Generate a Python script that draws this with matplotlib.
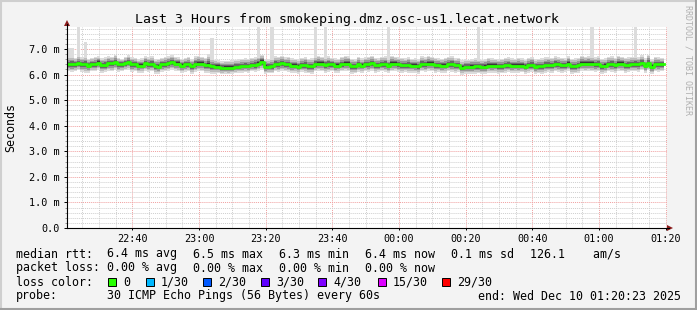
import matplotlib
matplotlib.use("Agg")
import matplotlib.pyplot as plt
import matplotlib.dates as mdates
from matplotlib.lines import Line2D
from matplotlib.patches import Polygon, Rectangle
from matplotlib.ticker import MultipleLocator, FuncFormatter
from datetime import datetime, timedelta
import numpy as np

# one median sample per minute, in ms
median = [
    6.40, 6.40, 6.40, 6.44, 6.40, 6.40, 6.35, 6.40, 6.40, 6.47,
    6.37, 6.37, 6.44, 6.44, 6.48, 6.40, 6.40, 6.45, 6.50, 6.40,
    6.40, 6.35, 6.35, 6.44, 6.40, 6.40, 6.33, 6.31, 6.40, 6.40,
    6.44, 6.48, 6.43, 6.43, 6.35, 6.40, 6.40, 6.32, 6.40, 6.43,
    6.43, 6.37, 6.37, 6.32, 6.31, 6.31, 6.27, 6.27, 6.27, 6.27,
    6.30, 6.30, 6.33, 6.33, 6.33, 6.37, 6.37, 6.43, 6.50, 6.30,
    6.30, 6.32, 6.40, 6.40, 6.44, 6.40, 6.40, 6.35, 6.35, 6.31,
    6.37, 6.37, 6.32, 6.32, 6.40, 6.43, 6.43, 6.37, 6.40, 6.40,
    6.35, 6.35, 6.40, 6.43, 6.43, 6.32, 6.32, 6.40, 6.35, 6.40,
    6.40, 6.44, 6.37, 6.37, 6.40, 6.40, 6.35, 6.43, 6.43, 6.40,
    6.37, 6.37, 6.37, 6.35, 6.35, 6.32, 6.40, 6.40, 6.43, 6.43,
    6.37, 6.37, 6.35, 6.35, 6.40, 6.40, 6.37, 6.37, 6.27, 6.30,
    6.30, 6.30, 6.32, 6.32, 6.30, 6.30, 6.35, 6.35, 6.35, 6.32,
    6.32, 6.37, 6.37, 6.35, 6.35, 6.35, 6.35, 6.31, 6.37, 6.37,
    6.30, 6.32, 6.32, 6.37, 6.37, 6.37, 6.40, 6.40, 6.37, 6.37,
    6.43, 6.32, 6.32, 6.37, 6.43, 6.43, 6.43, 6.43, 6.40, 6.40,
    6.32, 6.35, 6.40, 6.40, 6.37, 6.43, 6.43, 6.37, 6.37, 6.40,
    6.40, 6.40, 6.45, 6.35, 6.45, 6.30, 6.40, 6.40, 6.40,
]

# top and bottom of the smoke per minute
smoke_hi = [
    6.70, 6.72, 6.66, 6.75, 6.68, 6.74, 6.62, 6.66, 6.70, 6.72,
    6.64, 6.68, 6.72, 6.70, 6.78, 6.66, 6.62, 6.70, 6.75, 6.68,
    6.66, 6.60, 6.64, 6.72, 6.68, 6.74, 6.60, 6.62, 6.66, 6.70,
    6.72, 6.76, 6.70, 6.68, 6.62, 6.66, 6.70, 6.60, 6.72, 6.74,
    6.70, 6.66, 6.80, 6.62, 6.58, 6.56, 6.52, 6.55, 6.54, 6.56,
    6.58, 6.60, 6.62, 6.64, 6.62, 6.66, 6.70, 6.72, 6.78, 6.62,
    6.60, 6.64, 6.72, 6.70, 6.74, 6.68, 6.70, 6.64, 6.62, 6.60,
    6.66, 6.70, 6.62, 6.64, 6.72, 6.74, 6.70, 6.68, 6.72, 6.66,
    6.64, 6.62, 6.70, 6.74, 6.72, 6.62, 6.60, 6.70, 6.64, 6.68,
    6.70, 6.74, 6.66, 6.64, 6.70, 6.72, 6.62, 6.74, 6.70, 6.68,
    6.66, 6.64, 6.70, 6.62, 6.64, 6.60, 6.72, 6.68, 6.74, 6.70,
    6.66, 6.64, 6.62, 6.66, 6.70, 6.72, 6.64, 6.66, 6.56, 6.60,
    6.58, 6.62, 6.64, 6.60, 6.58, 6.62, 6.66, 6.64, 6.62, 6.60,
    6.62, 6.66, 6.68, 6.64, 6.62, 6.66, 6.64, 6.58, 6.66, 6.70,
    6.60, 6.62, 6.64, 6.68, 6.70, 6.66, 6.72, 6.68, 6.66, 6.64,
    6.72, 6.62, 6.64, 6.66, 6.74, 6.70, 6.72, 6.70, 6.68, 6.72,
    6.62, 6.64, 6.70, 6.72, 6.66, 6.74, 6.70, 6.66, 6.68, 6.70,
    6.72, 6.68, 6.76, 6.64, 6.78, 6.62, 6.70, 6.68, 6.66,
]
smoke_lo = [
    6.12, 6.10, 6.14, 6.16, 6.10, 6.08, 6.06, 6.12, 6.14, 6.18,
    6.08, 6.10, 6.14, 6.12, 6.18, 6.10, 6.12, 6.16, 6.18, 6.10,
    6.12, 6.06, 6.08, 6.14, 6.10, 6.12, 6.04, 6.02, 6.10, 6.12,
    6.14, 6.18, 6.14, 6.12, 6.06, 6.10, 6.12, 6.04, 6.10, 6.14,
    6.12, 6.08, 6.06, 6.04, 6.04, 6.06, 6.02, 6.04, 6.02, 6.04,
    6.06, 6.08, 6.08, 6.10, 6.08, 6.12, 6.10, 6.14, 6.18, 6.04,
    6.06, 6.06, 6.12, 6.10, 6.14, 6.12, 6.10, 6.06, 6.08, 6.04,
    6.10, 6.08, 6.06, 6.04, 6.12, 6.14, 6.12, 6.08, 6.10, 6.12,
    6.06, 6.08, 6.12, 6.14, 6.12, 6.04, 6.06, 6.10, 6.08, 6.12,
    6.10, 6.14, 6.08, 6.10, 6.12, 6.10, 6.06, 6.12, 6.14, 6.10,
    6.08, 6.10, 6.06, 6.08, 6.06, 6.04, 6.12, 6.10, 6.14, 6.12,
    6.08, 6.10, 6.06, 6.08, 6.12, 6.10, 6.08, 6.10, 6.00, 6.02,
    6.04, 6.02, 6.04, 6.06, 6.04, 6.02, 6.08, 6.06, 6.08, 6.04,
    6.06, 6.08, 6.10, 6.06, 6.08, 6.06, 6.10, 6.04, 6.08, 6.10,
    6.02, 6.06, 6.04, 6.08, 6.10, 6.08, 6.12, 6.10, 6.08, 6.10,
    6.14, 6.04, 6.06, 6.08, 6.14, 6.12, 6.14, 6.12, 6.10, 6.12,
    6.04, 6.06, 6.12, 6.10, 6.08, 6.14, 6.12, 6.08, 6.10, 6.12,
    6.12, 6.10, 6.16, 6.06, 6.16, 6.02, 6.12, 6.10, 6.12,
]

# single slow pings sticking out of the smoke
spike_idx = [0, 1, 3, 5, 43, 57, 61, 74, 77, 96, 123, 157, 170]
spike_top = [7.04, 7.04, 7.90, 7.29, 7.42, 7.90, 7.90, 7.90, 7.90, 7.90, 7.90, 7.90, 7.90]

loss_labels = ["0", "1/30", "2/30", "3/30", "4/30", "15/30", "29/30"]
loss_colors = ["#26ff00", "#00b8ff", "#0059ff", "#5e00ff", "#7e00ff", "#dd00ff", "#ff0000"]

rtt_stats = ["6.4 ms avg", "6.5 ms max", "6.3 ms min", "6.4 ms now", "0.1 ms sd", "126.1    am/s"]
loss_stats = ["0.00 % avg", "0.00 % max", "0.00 % min", "0.00 % now"]

start = datetime(2025, 12, 9, 22, 20, 23)
end = datetime(2025, 12, 10, 1, 20, 23)

W, H = 697, 310
MONO = "DejaVu Sans Mono"


def fx(x):
    return x / W


def fy(y):
    return 1 - y / H


fig = plt.figure(figsize=(W / 100, H / 100), dpi=100, facecolor="#f3f3f3")
ax = fig.add_axes([fx(67), fy(228), fx(667) - fx(67), fy(27) - fy(228)])
ax.set_facecolor("white")

edges = [start + timedelta(minutes=k) for k in range(len(median) + 1)]
med = np.append(median, median[-1])
hi = np.append(smoke_hi, smoke_hi[-1])
lo = np.append(smoke_lo, smoke_lo[-1])
top = hi.copy()
for i, t in zip(spike_idx, spike_top):
    top[i] = t
    if i == len(median) - 1:
        top[-1] = t

# smoke, light outside to dark near the median
ax.fill_between(edges, lo, top, step="post", color="#dcdcdc", lw=0, zorder=2)
shades = [(0.78, "#bdbdbd"), (0.55, "#969696"), (0.35, "#686868"), (0.18, "#383838")]
for frac, col in shades:
    ax.fill_between(edges, med - (med - lo) * frac, med + (hi - med) * frac,
                    step="post", color=col, lw=0, zorder=3)
ax.step(edges, med, where="post", color=loss_colors[0], lw=2.0, zorder=4)

ax.set_xlim(start, end)
ax.set_ylim(0, 7.86)
ax.yaxis.set_major_locator(MultipleLocator(1.0))
ax.yaxis.set_minor_locator(MultipleLocator(0.2))
ax.yaxis.set_major_formatter(FuncFormatter(lambda v, p: "0.0" if v == 0 else f"{v:.1f} m"))
ax.xaxis.set_major_locator(mdates.MinuteLocator(byminute=[0, 20, 40]))
ax.xaxis.set_minor_locator(mdates.MinuteLocator(byminute=range(0, 60, 5)))
ax.xaxis.set_major_formatter(mdates.DateFormatter("%H:%M"))

ax.set_axisbelow(True)
ax.grid(which="minor", color="#cfcfcf", linestyle=(0, (1, 1)), lw=0.7)
ax.grid(which="major", color="#f0a0a0", linestyle=(0, (1, 1)), lw=0.7)
for s in ax.spines.values():
    s.set_visible(False)
ax.tick_params(axis="y", which="major", length=2.2, width=0.7, pad=3, labelsize=7.3, colors="black")
ax.tick_params(axis="y", which="minor", length=1.4, width=0.6, color="#888888")
ax.tick_params(axis="x", which="major", length=1.5, width=0.7, pad=3, labelsize=7.3)
ax.tick_params(axis="x", which="minor", length=0)
for lab in ax.get_xticklabels() + ax.get_yticklabels():
    lab.set_family(MONO)

# axes with arrow heads
fig.add_artist(Line2D([fx(67), fx(67)], [fy(228), fy(24)], color="black", lw=0.8))
fig.add_artist(Line2D([fx(67), fx(669)], [fy(228), fy(228)], color="black", lw=0.8))
fig.add_artist(Polygon([[fx(64), fy(26)], [fx(70), fy(26)], [fx(67), fy(20)]], closed=True,
                       color="#8b1a1a", lw=0))
fig.add_artist(Polygon([[fx(667), fy(225)], [fx(667), fy(231)], [fx(673), fy(228)]], closed=True,
                       color="#8b1a1a", lw=0))

# frame around the canvas
fig.add_artist(Line2D([0, 1], [fy(0.5), fy(0.5)], color="#cfcfcf", lw=1.5))
fig.add_artist(Line2D([fx(0.5), fx(0.5)], [0, 1], color="#cfcfcf", lw=1.5))
fig.add_artist(Line2D([0, 1], [fy(309), fy(309)], color="#9f9f9f", lw=1.5))
fig.add_artist(Line2D([fx(696), fx(696)], [0, 1], color="#9f9f9f", lw=1.5))

fig.text(fx(347), fy(19), "Last 3 Hours from smokeping.dmz.osc-us1.lecat.network",
         ha="center", va="center", fontsize=9.5, family=MONO)
fig.text(fx(11), fy(127), "Seconds", rotation=90, ha="center", va="center", fontsize=8.4, family=MONO)
fig.text(fx(688), fy(60), "RRDTOOL / TOBI OETIKER", rotation=270, ha="center", va="center",
         fontsize=6, family=MONO, color="#b0b0b0")

LF = 8.4
rows_y = [254, 268, 282, 296]
stat_x = [107, 193, 279, 365, 451, 530]
fig.text(fx(16), fy(rows_y[0]), "median rtt:", va="center", fontsize=LF, family=MONO)
for x, s in zip(stat_x, rtt_stats):
    fig.text(fx(x), fy(rows_y[0]), s, va="center", fontsize=LF, family=MONO)
fig.text(fx(16), fy(rows_y[1]), "packet loss:", va="center", fontsize=LF, family=MONO)
for x, s in zip(stat_x, loss_stats):
    fig.text(fx(x), fy(rows_y[1]), s, va="center", fontsize=LF, family=MONO)

fig.text(fx(16), fy(rows_y[2]), "loss color:", va="center", fontsize=LF, family=MONO)
box_x = [108, 146, 203, 261, 318, 378, 442]
for x, lab, col in zip(box_x, loss_labels, loss_colors):
    fig.add_artist(Rectangle((fx(x), fy(rows_y[2] + 4)), fx(8), 8 / H, facecolor=col,
                             edgecolor="black", lw=0.7))
    fig.text(fx(x + 15), fy(rows_y[2]), lab, va="center", fontsize=LF, family=MONO)

fig.text(fx(16), fy(rows_y[3]), "probe:", va="center", fontsize=LF, family=MONO)
fig.text(fx(107), fy(rows_y[3]), "30 ICMP Echo Pings (56 Bytes) every 60s", va="center",
         fontsize=LF, family=MONO)
fig.text(fx(478), fy(rows_y[3]), "end: Wed Dec 10 01:20:23 2025", va="center",
         fontsize=LF, family=MONO)

fig.savefig("out.png", dpi=100, facecolor=fig.get_facecolor())
